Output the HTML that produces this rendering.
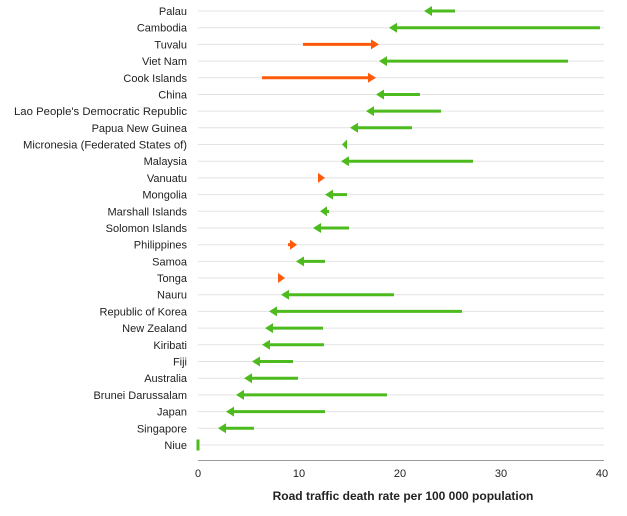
<!DOCTYPE html>
<html><head><meta charset="utf-8"><style>
html,body{margin:0;padding:0;background:#fff}
svg{display:block;font-family:"Liberation Sans",sans-serif}
</style></head><body>
<svg width="627" height="516" viewBox="0 0 627 516">
<g stroke="#e3e3e3" stroke-width="1">
<line x1="198" x2="604" y1="11" y2="11"/><line x1="198" x2="604" y1="27.7" y2="27.7"/><line x1="198" x2="604" y1="44.4" y2="44.4"/><line x1="198" x2="604" y1="61.1" y2="61.1"/><line x1="198" x2="604" y1="77.8" y2="77.8"/><line x1="198" x2="604" y1="94.5" y2="94.5"/><line x1="198" x2="604" y1="111.1" y2="111.1"/><line x1="198" x2="604" y1="127.8" y2="127.8"/><line x1="198" x2="604" y1="144.5" y2="144.5"/><line x1="198" x2="604" y1="161.2" y2="161.2"/><line x1="198" x2="604" y1="177.9" y2="177.9"/><line x1="198" x2="604" y1="194.6" y2="194.6"/><line x1="198" x2="604" y1="211.3" y2="211.3"/><line x1="198" x2="604" y1="228" y2="228"/><line x1="198" x2="604" y1="244.7" y2="244.7"/><line x1="198" x2="604" y1="261.4" y2="261.4"/><line x1="198" x2="604" y1="278" y2="278"/><line x1="198" x2="604" y1="294.7" y2="294.7"/><line x1="198" x2="604" y1="311.4" y2="311.4"/><line x1="198" x2="604" y1="328.1" y2="328.1"/><line x1="198" x2="604" y1="344.8" y2="344.8"/><line x1="198" x2="604" y1="361.5" y2="361.5"/><line x1="198" x2="604" y1="378.2" y2="378.2"/><line x1="198" x2="604" y1="394.9" y2="394.9"/><line x1="198" x2="604" y1="411.6" y2="411.6"/><line x1="198" x2="604" y1="428.3" y2="428.3"/><line x1="198" x2="604" y1="445" y2="445"/>
</g>
<line x1="198" x2="604" y1="460.5" y2="460.5" stroke="#999" stroke-width="1"/>
<g font-size="11" fill="#222" text-anchor="end">
<text x="187" y="15">Palau</text><text x="187" y="31.7">Cambodia</text><text x="187" y="48.4">Tuvalu</text><text x="187" y="65.1">Viet Nam</text><text x="187" y="81.8">Cook Islands</text><text x="187" y="98.5">China</text><text x="187" y="115.1" textLength="173" lengthAdjust="spacingAndGlyphs">Lao People's Democratic Republic</text><text x="187" y="131.8">Papua New Guinea</text><text x="187" y="148.5" textLength="164" lengthAdjust="spacingAndGlyphs">Micronesia (Federated States of)</text><text x="187" y="165.2">Malaysia</text><text x="187" y="181.9">Vanuatu</text><text x="187" y="198.6">Mongolia</text><text x="187" y="215.3">Marshall Islands</text><text x="187" y="232">Solomon Islands</text><text x="187" y="248.7">Philippines</text><text x="187" y="265.4">Samoa</text><text x="187" y="282">Tonga</text><text x="187" y="298.7">Nauru</text><text x="187" y="315.4">Republic of Korea</text><text x="187" y="332.1">New Zealand</text><text x="187" y="348.8">Kiribati</text><text x="187" y="365.5">Fiji</text><text x="187" y="382.2">Australia</text><text x="187" y="398.9">Brunei Darussalam</text><text x="187" y="415.6">Japan</text><text x="187" y="432.3">Singapore</text><text x="187" y="449">Niue</text>
</g>
<g font-size="11" fill="#222" text-anchor="middle">
<text x="198" y="477">0</text><text x="299" y="477">10</text><text x="400" y="477">20</text><text x="501" y="477">30</text><text x="602" y="477">40</text>
</g>
<text x="403" y="500" font-size="12" font-weight="bold" fill="#222" text-anchor="middle">Road traffic death rate per 100 000 population</text>
<g stroke="#4dbb1d" stroke-width="3" fill="none">
<line x1="430" x2="455" y1="11" y2="11"/>
<line x1="395" x2="600" y1="27.7" y2="27.7"/>
<line x1="385" x2="568" y1="61.1" y2="61.1"/>
<line x1="382" x2="420" y1="94.5" y2="94.5"/>
<line x1="372" x2="441" y1="111.1" y2="111.1"/>
<line x1="356" x2="412" y1="127.8" y2="127.8"/>
<line x1="347" x2="473" y1="161.2" y2="161.2"/>
<line x1="331" x2="347" y1="194.6" y2="194.6"/>
<line x1="319" x2="349" y1="228" y2="228"/>
<line x1="302" x2="325" y1="261.4" y2="261.4"/>
<line x1="287" x2="394" y1="294.7" y2="294.7"/>
<line x1="275" x2="462" y1="311.4" y2="311.4"/>
<line x1="271" x2="323" y1="328.1" y2="328.1"/>
<line x1="268" x2="324" y1="344.8" y2="344.8"/>
<line x1="258" x2="293" y1="361.5" y2="361.5"/>
<line x1="250" x2="298" y1="378.2" y2="378.2"/>
<line x1="242" x2="387" y1="394.9" y2="394.9"/>
<line x1="232" x2="325" y1="411.6" y2="411.6"/>
<line x1="224" x2="254" y1="428.3" y2="428.3"/>
</g>
<g fill="#4dbb1d">
<polygon points="424,11 432,6 432,16"/>
<polygon points="389,27.7 397,22.7 397,32.7"/>
<polygon points="379,61.1 387,56.1 387,66.1"/>
<polygon points="376,94.5 384,89.5 384,99.5"/>
<polygon points="366,111.1 374,106.1 374,116.1"/>
<polygon points="350,127.8 358,122.8 358,132.8"/>
<polygon points="342,144.5 347,139.5 347,149.5"/>
<polygon points="341,161.2 349,156.2 349,166.2"/>
<polygon points="325,194.6 333,189.6 333,199.6"/>
<polygon points="320,211.3 327,206.3 327,216.3"/>
<rect x="325" y="210" width="4" height="3"/>
<polygon points="313,228 321,223 321,233"/>
<polygon points="296,261.4 304,256.4 304,266.4"/>
<polygon points="281,294.7 289,289.7 289,299.7"/>
<polygon points="269,311.4 277,306.4 277,316.4"/>
<polygon points="265,328.1 273,323.1 273,333.1"/>
<polygon points="262,344.8 270,339.8 270,349.8"/>
<polygon points="252,361.5 260,356.5 260,366.5"/>
<polygon points="244,378.2 252,373.2 252,383.2"/>
<polygon points="236,394.9 244,389.9 244,399.9"/>
<polygon points="226,411.6 234,406.6 234,416.6"/>
<polygon points="218,428.3 226,423.3 226,433.3"/>
<rect x="196.5" y="439.5" width="3" height="11"/>
</g>
<g stroke="#ff5a0a" stroke-width="3">
<line x1="303" x2="373" y1="44.4" y2="44.4"/>
<line x1="262" x2="370" y1="77.8" y2="77.8"/>
</g>
<g fill="#ff5a0a">
<polygon points="379,44.4 371,39.4 371,49.4"/>
<polygon points="376,77.8 368,72.8 368,82.8"/>
<polygon points="325,177.9 318,172.9 318,182.9"/>
<polygon points="297,244.7 290,239.7 290,249.7"/>
<rect x="288" y="243.2" width="3" height="3"/>
<polygon points="285,278 278,273 278,283"/>
</g>
</svg>
</body></html>
